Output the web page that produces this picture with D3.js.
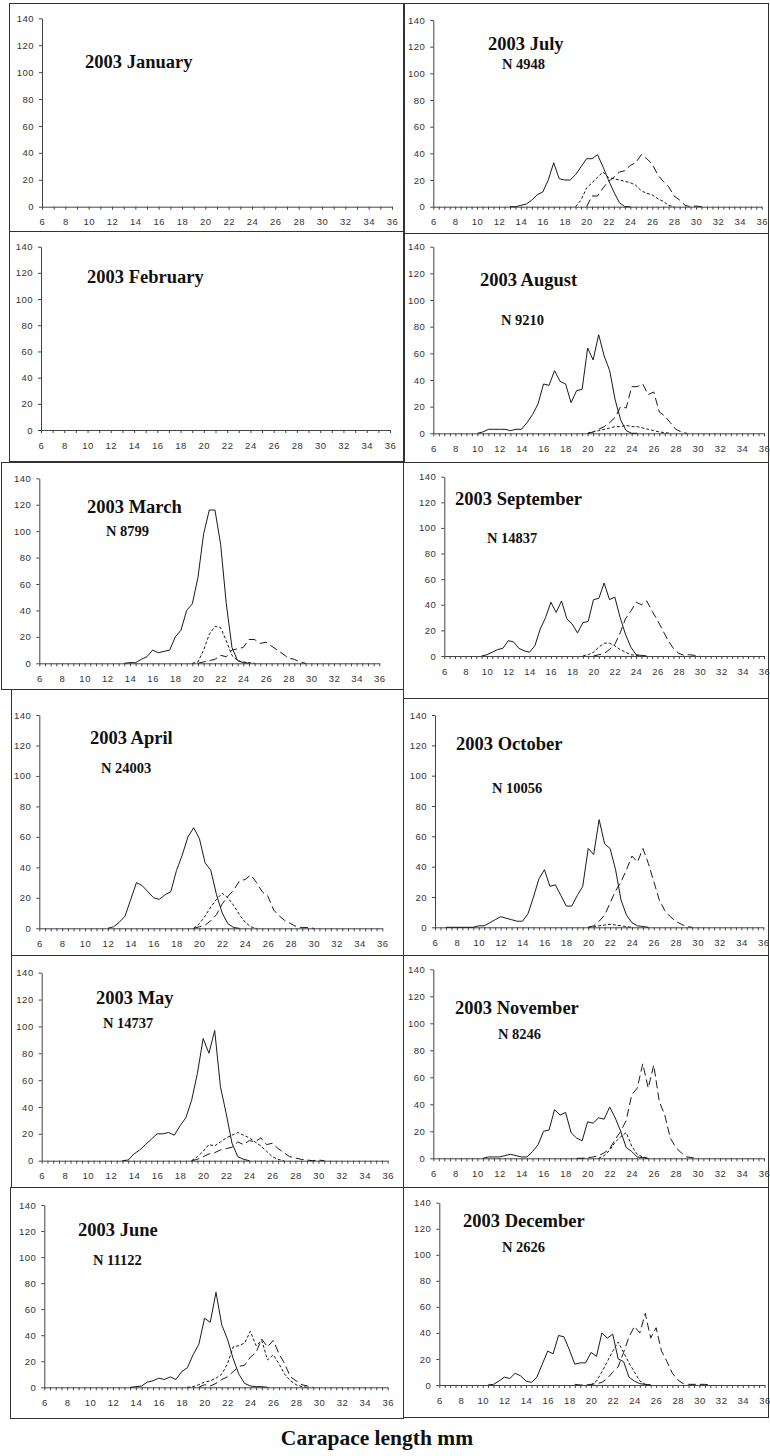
<!DOCTYPE html>
<html>
<head>
<meta charset="utf-8">
<script src="https://cdn.jsdelivr.net/npm/d3@7"></script>
<style>
  body { margin: 0; background: #fff; }
  .tick text { font-family: "Liberation Sans", Arial, sans-serif; font-size: 9.5px; fill: #333; letter-spacing: 0.5px; }
  .domain, .tick line { stroke: #444; }
  .title { font-family: "Liberation Serif", "Times New Roman", serif; font-weight: bold; fill: #111; }
</style>
</head>
<body>
<svg width="770" height="1456"></svg>
<script>
// month labels and sample sizes
var months = ["2003 January", "2003 February", "2003 March", "2003 April", "2003 May", "2003 June",
              "2003 July", "2003 August", "2003 September", "2003 October", "2003 November", "2003 December"];
var counts = [null, null, "N 8799", "N 24003", "N 14737", "N 11122",
              "N 4948", "N 9210", "N 14837", "N 10056", "N 8246", "N 2626"];

var yTicks = [0, 20, 40, 60, 80, 100, 120, 140];
var xLabels = [6, 8, 10, 12, 14, 16, 18, 20, 22, 24, 26, 28, 30, 32, 34, 36];

// frequencies per 0.5 mm class, starting at "from" (mm)
var mar = {
  solid: { from: 13.5, v: [0,0.5,0.5,3,5,10,8,9,10,20,25,40,45,65,98,116,116,90,45,12,2,0.5,0] },
  short: { from: 19.5, v: [0,1,10,22,28,27,17,6,2,1,0.5,0] },
  long:  { from: 20,   v: [0,1,2,3,6,5,10,11,12,18,18,15,16,13,10,7,4,3,1,0] }
};
var apr = {
  solid: { from: 12,   v: [0,1,4,8,19,30,28,24,20,19,22,24,38,48,60,66,59,43,38,22,10,3,0.5,0] },
  short: { from: 19.5, v: [0,3,8,14,19,23,20,15,9,4,1,0] },
  long:  { from: 19.5, v: [0,1,2,5,9,16,21,25,31,32,35,30,24,21,12,8,5,3,1,0.5,0.5,0] }
};
var may = {
  solid: { from: 13, v: [0,0.5,5,8,12,16,20,20,21,19,26,32,45,65,91,80,97,55,35,13,3,1,0] },
  short: { from: 19, v: [0,3,7,12,11,14,17,19,21,19,17,14,11,7,3,1,0] },
  long:  { from: 19, v: [0,1,3,5,6,8,9,10,14,12,15,14,17,12,13,9,6,3,2,1,0.5,0,0.5,0] }
};
var jun = {
  solid: { from: 13.5, v: [0,0.5,1,4,5,7,6,8,6,12,15,25,33,53,50,73,48,37,22,10,3,1,0.5,0.5,0] },
  short: { from: 18.5, v: [0,0.5,2,4,5,7,10,18,31,32,34,43,32,36,21,25,18,10,5,2,0.5,0] },
  long:  { from: 19.5, v: [0,2,1,3,6,8,12,16,17,23,27,37,31,36,26,18,8,5,2,1,0] }
};
var jul = {
  solid: { from: 13, v: [0,0,1,2,5,9,11,20,33,21,20,20,24,30,36,36,39,30,20,11,3,0,0] },
  short: { from: 19, v: [0,5,14,18,22,26,22,21,20,19,18,16,12,10,9,6,4,1,0] },
  long:  { from: 20, v: [0,8,8,14,19,22,26,27,31,33,39,36,32,24,19,15,8,5,1,0,0.5,0] }
};
var aug = {
  solid: { from: 10, v: [0,1,3,3,3,3,2,3,3,8,14,22,37,36,47,39,37,23,32,33,64,55,74,58,47,25,10,2,0,0] },
  short: { from: 20, v: [0,1,2,3,4,5,5,6,5,5,4,3,2,1,0.5,0] },
  long:  { from: 20, v: [0,1,3,5,8,12,20,19,35,35,37,29,31,16,13,8,3,1,0] }
};
var sep = {
  solid: { from: 9.5, v: [0,1,3,5,6,12,11,6,4,3,8,21,30,42,34,43,29,25,18,26,27,44,45,57,44,46,30,17,7,1,0.5,0] },
  short: { from: 19,  v: [0,1,3,7,10,10,8,5,3,1,0.5,0] },
  long:  { from: 20,  v: [0,1,2,5,9,18,29,35,42,40,43,35,28,20,12,6,2,0.5,1,0.5,0] }
};
var oct = {
  solid: { from: 7,  v: [0,0,0,0,0,0,1,1,3,5,7,6,5,4,4,9,20,32,38,27,28,21,14,14,21,27,52,48,71,55,52,38,18,8,3,1,0.5,0] },
  short: { from: 20, v: [0,0.5,1,1.5,2,1.5,1,0.5,0] },
  long:  { from: 20, v: [0,1,4,8,16,24,30,38,47,43,52,42,30,18,11,7,4,2,0.5,0] }
};
var nov = {
  solid: { from: 10.5, v: [0,1,1,1,2,3,2,1,1,5,10,20,21,36,32,34,19,15,13,27,26,30,29,38,30,20,8,5,1,0.5,0] },
  short: { from: 21,   v: [0,2,6,12,16,19,9,3,1,0] },
  long:  { from: 19,   v: [0,0,0.5,1,2,4,7,14,20,28,47,52,70,52,69,42,32,15,8,4,1,0.5,0] }
};
var dec = {
  solid: { from: 10.5, v: [0,0.5,3,6,5,9,7,3,2,6,16,26,24,38,37,27,16,17,17,25,22,40,36,39,20,18,6,3,1,0.5,0] },
  short: { from: 20,   v: [0,3,10,18,26,33,25,17,10,3,0.5,0] },
  long:  { from: 18.5, v: [0.5,0,0,0.5,1,2,5,10,14,25,37,45,40,55,36,44,26,18,9,4,1,0.5,0.5,0.5,0.5,0] }
};
var monthData = [null, null, mar, apr, may, jun, jul, aug, sep, oct, nov, dec];

// panel layout: frame box, plot area (x of 6 & 36, y of 0 & 140), title and N positions
var layout = [
  { box: [9, 3, 403, 231],      px: [42, 392],  py: [206.7, 18.3],  t: [85, 68] },
  { box: [9, 231, 403, 461],    px: [41, 390],  py: [430, 246.7],   t: [87, 283] },
  { box: [1, 462, 403, 689],    px: [39.3, 379.3], py: [663.3, 478.3], t: [87, 513],  n: [106, 536] },
  { box: [11, 689, 403, 955],   px: [39.3, 382.3], py: [928.3, 715],   t: [90, 744],  n: [101, 773] },
  { box: [11, 955, 403, 1187],  px: [41.7, 387.7], py: [1160.7, 972.7], t: [96, 1004], n: [103, 1028] },
  { box: [10, 1187, 403, 1418], px: [44.3, 387.7], py: [1387.3, 1205], t: [78, 1236], n: [93, 1265] },
  { box: [404, 3, 768, 233],    px: [433.3, 761.7], py: [206.7, 20],    t: [488, 50],  n: [502, 69] },
  { box: [404, 233, 768, 462],  px: [433.3, 764],   py: [433.3, 246.7], t: [480, 286], n: [501, 325] },
  { box: [403, 462, 768, 698],  px: [444.3, 764],   py: [656, 476.7],   t: [455, 505], n: [487, 543] },
  { box: [403, 698, 768, 955],  px: [435, 763.3],   py: [927.3, 715],   t: [456, 750], n: [492, 793] },
  { box: [403, 955, 768, 1187], px: [433.3, 764],   py: [1158.3, 969.3], t: [455, 1014], n: [498, 1039] },
  { box: [403, 1187, 768, 1417], px: [439.3, 764.5], py: [1385, 1202.7], t: [463, 1227], n: [502, 1252] }
];

var svg = d3.select("svg");

var styles = { solid: null, short: "3,2", long: "8,4" };

layout.forEach(function(L, i) {
  var g = svg.append("g");
  var b = L.box;

  g.append("rect")
    .attr("x", b[0] + 0.5).attr("y", b[1] + 0.5)
    .attr("width", b[2] - b[0]).attr("height", b[3] - b[1])
    .attr("fill", "none").attr("stroke", "#333").attr("stroke-width", 1);

  var x = d3.scaleLinear().domain([6, 36]).range(L.px),
      y = d3.scaleLinear().domain([0, 140]).range(L.py);

  var data = monthData[i];
  var step = data ? 0.5 : 1;

  g.append("g")
    .attr("transform", "translate(" + L.px[0] + ",0)")
    .call(d3.axisLeft(y).tickValues(yTicks).tickSize(3).tickPadding(5).tickSizeOuter(0));

  g.append("g")
    .attr("transform", "translate(0," + L.py[0] + ")")
    .call(d3.axisBottom(x)
      .tickValues(d3.range(6, 36.001, step))
      .tickFormat(function(d) { return xLabels.indexOf(d) >= 0 ? d : ""; })
      .tickSize(3).tickPadding(9).tickSizeOuter(0));

  g.selectAll(".domain").attr("stroke-width", 1);

  if (data) {
    ["solid", "short", "long"].forEach(function(k) {
      var s = data[k];
      var line = d3.line()
        .x(function(d, j) { return x(s.from + j * 0.5); })
        .y(function(d) { return y(d); });
      g.append("path")
        .attr("d", line(s.v))
        .attr("fill", "none")
        .attr("stroke", "#1a1a1a")
        .attr("stroke-width", 1)
        .attr("stroke-dasharray", styles[k]);
    });
  }

  g.append("text").attr("class", "title")
    .attr("x", L.t[0]).attr("y", L.t[1])
    .style("font-size", "18.5px")
    .text(months[i]);

  if (counts[i]) {
    g.append("text").attr("class", "title")
      .attr("x", L.n[0]).attr("y", L.n[1])
      .style("font-size", "14.5px")
      .text(counts[i]);
  }
});

svg.append("text").attr("class", "title")
  .attr("x", 377).attr("y", 1445)
  .attr("text-anchor", "middle")
  .style("font-size", "21.5px")
  .text("Carapace length mm");
</script>
</body>
</html>
